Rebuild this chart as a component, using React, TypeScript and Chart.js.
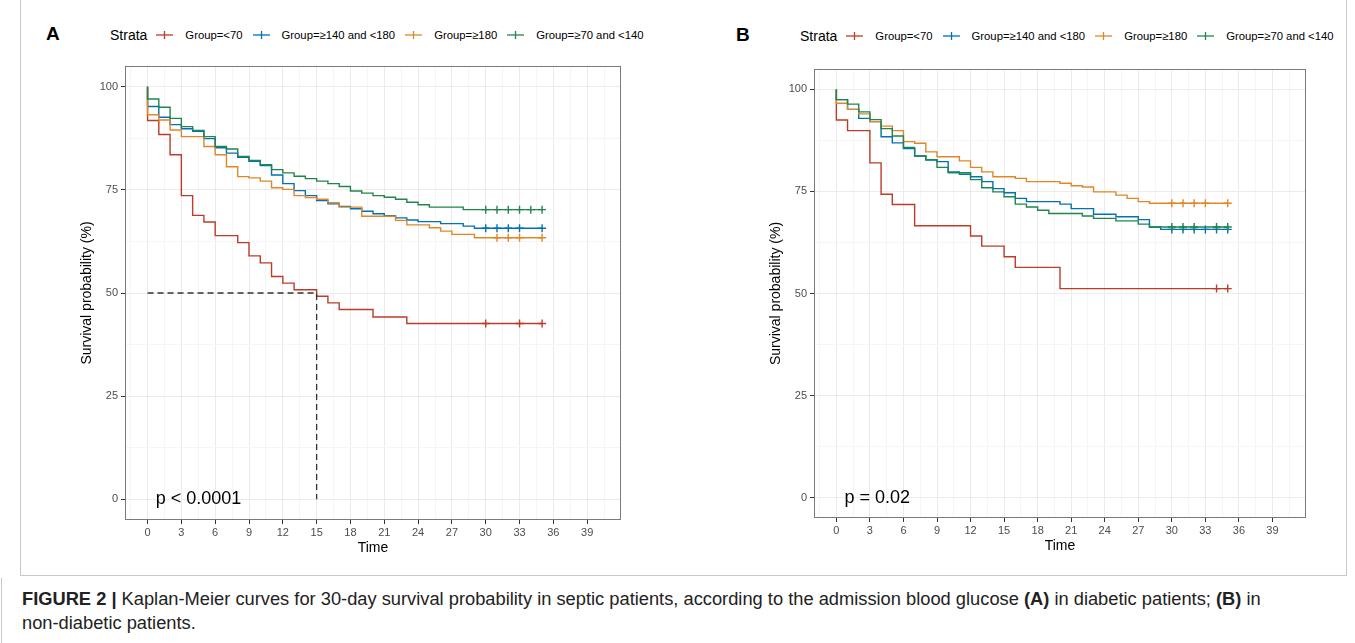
import React, { useEffect, useRef } from 'react';
import { Chart, registerables } from 'chart.js';

Chart.register(...registerables);

// ---------- data ----------
const groupLabels = ['Group=<70', 'Group=≥140 and <180', 'Group=≥180', 'Group=≥70 and <140'];
const groupColors = ['#BC3C29', '#0072B5', '#E18727', '#20854E'];

const xMajorTicks = [0, 3, 6, 9, 12, 15, 18, 21, 24, 27, 30, 33, 36, 39];
const xMinorTicks = [-1.5, 1.5, 4.5, 7.5, 10.5, 13.5, 16.5, 19.5, 22.5, 25.5, 28.5, 31.5, 34.5, 37.5, 40.5];
const yMajorTicks = [0, 25, 50, 75, 100];
const yMinorTicks = [12.5, 37.5, 62.5, 87.5];

// Panel A (diabetic)
const aRedTime = [0, 0, 1, 2, 3, 4, 5, 6, 8, 9, 10, 11, 12, 13, 15, 16, 17, 20, 23, 35];
const aRedSurv = [100, 91.8, 88.4, 83.5, 73.6, 68.8, 67.2, 63.9, 62.2, 59.0, 57.3, 54.0, 52.4, 50.8, 49.2, 47.6, 46.0, 44.2, 42.6, 42.6];
const aRedCensor = [30, 33, 35];

const aBlueTime = [0, 0, 1, 2, 3, 4, 5, 6, 7, 8, 9, 10, 11, 12, 13, 14, 15, 16, 17, 18, 19, 20, 21, 22, 23, 24, 26, 28, 29, 35];
const aBlueSurv = [100, 95.2, 92.6, 90.8, 89.8, 89.2, 87.4, 85.2, 83.9, 82.9, 81.9, 80.9, 78.6, 76.5, 74.8, 73.6, 72.4, 71.6, 71.0, 70.4, 69.8, 69.2, 68.7, 68.2, 67.7, 67.3, 66.8, 66.2, 65.7, 65.7];
const aBlueCensor = [30, 31, 32, 33, 35];

const aOrangeTime = [0, 0, 1, 2, 3, 5, 6, 7, 8, 9, 10, 11, 12, 13, 14, 15, 16, 17, 19, 22, 23, 25, 26, 27, 29, 35];
const aOrangeSurv = [100, 93.2, 91.9, 89.5, 87.9, 85.5, 83.5, 80.6, 78.2, 77.9, 77.1, 75.5, 75.1, 73.6, 73.1, 72.7, 71.9, 70.8, 68.6, 67.6, 66.5, 65.8, 65.0, 64.2, 63.4, 63.4];
const aOrangeCensor = [31, 32, 33, 35];

const aGreenTime = [0, 0, 1, 2, 3, 4, 5, 6, 7, 8, 9, 10, 11, 12, 13, 14, 15, 16, 17, 18, 19, 20, 21, 22, 23, 24, 25, 28, 35];
const aGreenSurv = [100, 97.0, 95.0, 92.3, 90.3, 89.4, 87.9, 85.5, 84.9, 83.1, 82.1, 81.1, 79.9, 79.1, 78.3, 77.7, 77.1, 76.5, 75.8, 74.7, 74.2, 73.6, 73.2, 72.7, 72.0, 71.4, 70.8, 70.2, 70.2];
const aGreenCensor = [30, 31, 32, 33, 34, 35];

const aMedianTime = 15;
const aPValue = 'p < 0.0001';

// Panel B (non-diabetic)
const bRedTime = [0, 0, 1, 3, 4, 5, 7, 12, 13, 15, 16, 20, 35];
const bRedSurv = [100, 92.5, 89.9, 82.0, 74.3, 71.8, 66.6, 64.1, 61.6, 59.0, 56.4, 51.2, 51.2];
const bRedCensor = [34, 35];

const bBlueTime = [0, 0, 1, 2, 3, 4, 5, 6, 7, 8, 9, 10, 11, 12, 13, 14, 15, 16, 17, 20, 21, 23, 25, 27, 28, 29, 35];
const bBlueSurv = [100, 97.5, 95.1, 92.9, 92.1, 88.4, 86.9, 85.5, 83.7, 82.7, 82.3, 79.8, 79.2, 78.6, 77.4, 75.7, 74.7, 73.3, 72.5, 71.9, 70.8, 69.4, 68.8, 68.1, 66.3, 65.7, 65.7];
const bBlueCensor = [30, 31, 32, 33, 34, 35];

const bOrangeTime = [0, 0, 1, 2, 3, 4, 5, 6, 7, 8, 9, 11, 12, 13, 14, 16, 17, 20, 21, 22, 23, 25, 26, 27, 28, 35];
const bOrangeSurv = [100, 96.6, 95.1, 94.0, 92.1, 91.0, 89.9, 87.2, 86.8, 84.7, 83.5, 82.5, 80.9, 79.8, 78.6, 78.2, 77.4, 77.0, 76.4, 76.1, 74.9, 74.1, 73.3, 72.5, 72.1, 72.1];
const bOrangeCensor = [30, 31, 32, 33, 35];

const bGreenTime = [0, 0, 1, 2, 3, 4, 5, 6, 7, 8, 9, 10, 12, 13, 14, 15, 16, 17, 18, 19, 22, 23, 25, 27, 28, 35];
const bGreenSurv = [100, 97.5, 96.4, 94.5, 92.6, 90.4, 88.6, 85.8, 83.7, 82.8, 80.9, 79.6, 77.9, 75.9, 74.9, 73.7, 71.9, 71.2, 70.4, 69.6, 69.0, 68.4, 67.8, 67.0, 66.3, 66.3];
const bGreenCensor = [30, 31, 32, 34, 35];

const bMedianTime: number | null = null;
const bPValue = 'p = 0.02';

// ---------- helpers ----------
const FONT = '"Liberation Sans", Arial, Helvetica, sans-serif';

function survAt(times: number[], surv: number[], t: number) {
  let v = surv[0];
  for (let i = 0; i < times.length; i++) if (times[i] <= t) v = surv[i];
  return v;
}

type Curve = { time: number[]; surv: number[]; censor: number[] };

function buildDatasets(curves: Curve[]) {
  const ds: any[] = [];
  const order = [4, 3, 2, 1];
  curves.forEach((c, i) => {
    ds.push({
      type: 'line',
      label: groupLabels[i],
      data: c.time.map((t, k) => ({ x: t, y: c.surv[k] })),
      borderColor: groupColors[i],
      backgroundColor: groupColors[i],
      borderWidth: 1.4,
      pointRadius: 0,
      stepped: 'before',
      fill: false,
      order: order[i] + 4,
    });
    ds.push({
      type: 'scatter',
      label: groupLabels[i] + ' censored',
      data: c.censor.map((t) => ({ x: t, y: survAt(c.time, c.surv, t) })),
      borderColor: groupColors[i],
      backgroundColor: groupColors[i],
      pointStyle: 'cross',
      pointRadius: 4,
      borderWidth: 1.4,
      showLine: false,
      order: order[i],
    });
  });
  return ds;
}

const decorPlugin = {
  id: 'panelDecor',
  afterDatasetsDraw(chart: any, _args: any, opts: any) {
    const { ctx, chartArea: ca, scales } = chart;
    const x = scales.x;
    const y = scales.y;
    ctx.save();
    if (opts.median != null) {
      ctx.setLineDash([6, 4]);
      ctx.strokeStyle = '#333333';
      ctx.lineWidth = 1.3;
      ctx.beginPath();
      ctx.moveTo(x.getPixelForValue(0), y.getPixelForValue(50));
      ctx.lineTo(x.getPixelForValue(opts.median), y.getPixelForValue(50));
      ctx.lineTo(x.getPixelForValue(opts.median), y.getPixelForValue(0));
      ctx.stroke();
      ctx.setLineDash([]);
    }
    if (opts.pText) {
      ctx.fillStyle = '#000000';
      ctx.font = '18px ' + FONT;
      ctx.textAlign = 'left';
      ctx.textBaseline = 'middle';
      ctx.fillText(opts.pText, x.getPixelForValue(0.73), y.getPixelForValue(0));
    }
    ctx.strokeStyle = '#7a7a7a';
    ctx.lineWidth = 1;
    const l = Math.round(ca.left) + 0.5;
    const t = Math.round(ca.top) + 0.5;
    const r = Math.round(ca.right) - 0.5;
    const b = Math.round(ca.bottom) - 0.5;
    ctx.strokeRect(l, t, r - l, b - t);
    ctx.restore();
  },
};

type PanelProps = {
  left: number;
  top: number;
  width: number;
  height: number;
  curves: Curve[];
  median: number | null;
  pText: string;
};

function Panel(p: PanelProps) {
  const ref = useRef<HTMLCanvasElement | null>(null);
  useEffect(() => {
    if (!ref.current) return;
    const chart = new Chart(ref.current, {
      type: 'line',
      data: { datasets: buildDatasets(p.curves) },
      plugins: [decorPlugin],
      options: {
        animation: false,
        responsive: false,
        maintainAspectRatio: false,
        layout: { padding: { top: 10, right: 14, left: 0, bottom: 0 } },
        plugins: {
          legend: { display: false },
          tooltip: { enabled: false },
          panelDecor: { median: p.median, pText: p.pText },
        } as any,
        scales: {
          x: {
            type: 'linear',
            min: -2,
            max: 42,
            afterBuildTicks: (s: any) => {
              s.ticks = [...xMinorTicks, ...xMajorTicks].sort((a, b) => a - b).map((v) => ({ value: v }));
            },
            afterFit: (s: any) => {
              s.height = 40;
            },
            ticks: {
              autoSkip: false,
              maxRotation: 0,
              padding: 2,
              color: '#4D4D4D',
              font: { family: FONT, size: 11 },
              callback: (v: any) => (xMajorTicks.includes(Number(v)) ? String(v) : ''),
            },
            grid: {
              color: (c: any) => (xMajorTicks.includes(c.tick?.value) ? '#EBEBEB' : '#F5F5F5'),
              lineWidth: 1,
              tickLength: 4,
              tickColor: (c: any) => (xMajorTicks.includes(c.tick?.value) ? '#333333' : 'rgba(0,0,0,0)'),
            },
            border: { display: false },
            title: {
              display: true,
              text: 'Time',
              color: '#000000',
              font: { family: FONT, size: 14 },
              padding: { top: 0, bottom: 3.6 },
            },
          },
          y: {
            type: 'linear',
            min: -5,
            max: 105,
            afterBuildTicks: (s: any) => {
              s.ticks = [...yMinorTicks, ...yMajorTicks].sort((a, b) => a - b).map((v) => ({ value: v }));
            },
            afterFit: (s: any) => {
              s.width = 65;
            },
            ticks: {
              autoSkip: false,
              padding: 3,
              color: '#4D4D4D',
              font: { family: FONT, size: 11 },
              callback: (v: any) => (yMajorTicks.includes(Number(v)) ? String(v) : ''),
            },
            grid: {
              color: (c: any) => (yMajorTicks.includes(c.tick?.value) ? '#EBEBEB' : '#F5F5F5'),
              lineWidth: 1,
              tickLength: 4,
              tickColor: (c: any) => (yMajorTicks.includes(c.tick?.value) ? '#333333' : 'rgba(0,0,0,0)'),
            },
            border: { display: false },
            title: {
              display: true,
              text: 'Survival probability (%)',
              color: '#000000',
              font: { family: FONT, size: 14 },
              padding: { top: 18.6, bottom: 0 },
            },
          },
        },
      } as any,
    });
    return () => chart.destroy();
  }, []);
  return (
    <canvas
      ref={ref}
      width={p.width}
      height={p.height}
      style={{ position: 'absolute', left: p.left, top: p.top, width: p.width, height: p.height }}
    />
  );
}

function LegendKey({ color }: { color: string }) {
  return (
    <svg width={17} height={12} style={{ display: 'block' }}>
      <line x1={0} y1={6} x2={17} y2={6} stroke={color} strokeWidth={1.3} />
      <line x1={8.5} y1={2} x2={8.5} y2={10} stroke={color} strokeWidth={1.3} />
    </svg>
  );
}

function Legend({ left, top, tag, tagLeft }: { left: number; top: number; tag: string; tagLeft: number }) {
  return (
    <>
      <div
        style={{
          position: 'absolute',
          left: tagLeft,
          top: top - 4,
          fontFamily: FONT,
          fontWeight: 'bold',
          fontSize: 19,
          lineHeight: '22px',
          color: '#000',
        }}
      >
        {tag}
      </div>
      <div
        style={{
          position: 'absolute',
          left,
          top,
          height: 16,
          display: 'flex',
          alignItems: 'center',
          fontFamily: FONT,
          whiteSpace: 'nowrap',
        }}
      >
        <span style={{ fontSize: 14, color: '#000', marginRight: 9 }}>Strata</span>
        {groupLabels.map((g, i) => (
          <React.Fragment key={g}>
            <LegendKey color={groupColors[i]} />
            <span style={{ fontSize: 11.3, color: '#000', marginLeft: 12, marginRight: 10 }}>{g}</span>
          </React.Fragment>
        ))}
      </div>
    </>
  );
}

export default function App() {
  const curvesA: Curve[] = [
    { time: aRedTime, surv: aRedSurv, censor: aRedCensor },
    { time: aBlueTime, surv: aBlueSurv, censor: aBlueCensor },
    { time: aOrangeTime, surv: aOrangeSurv, censor: aOrangeCensor },
    { time: aGreenTime, surv: aGreenSurv, censor: aGreenCensor },
  ];
  const curvesB: Curve[] = [
    { time: bRedTime, surv: bRedSurv, censor: bRedCensor },
    { time: bBlueTime, surv: bBlueSurv, censor: bBlueCensor },
    { time: bOrangeTime, surv: bOrangeSurv, censor: bOrangeCensor },
    { time: bGreenTime, surv: bGreenSurv, censor: bGreenCensor },
  ];
  return (
    <div
      style={{
        position: 'absolute',
        left: 0,
        top: 0,
        width: 1355,
        height: 643,
        background: '#ffffff',
        overflow: 'hidden',
      }}
    >
      <div
        style={{
          position: 'absolute',
          left: 20,
          top: -2,
          width: 1325,
          height: 577,
          borderLeft: '1px solid #c8c8c8',
          borderRight: '1px solid #c8c8c8',
          borderBottom: '1px solid #c8c8c8',
        }}
      />
      <div
        style={{
          position: 'absolute',
          left: 1,
          top: 578,
          width: 1,
          height: 70,
          background: '#c8c8c8',
        }}
      />
      <Legend left={110} top={27} tag="A" tagLeft={46} />
      <Legend left={800} top={28} tag="B" tagLeft={736} />
      <Panel left={60} top={56} width={575} height={504} curves={curvesA} median={aMedianTime} pText={aPValue} />
      <Panel left={749} top={59} width={571} height={499} curves={curvesB} median={bMedianTime} pText={bPValue} />
      <div
        style={{
          position: 'absolute',
          left: 22,
          top: 587,
          width: 1320,
          fontFamily: FONT,
          fontSize: 18.3,
          lineHeight: '24px',
          color: '#222',
          whiteSpace: 'nowrap',
        }}
      >
        <b>FIGURE 2 |</b> Kaplan-Meier curves for 30-day survival probability in septic patients, according to the
        admission blood glucose <b>(A)</b> in diabetic patients; <b>(B)</b> in
        <br />
        non-diabetic patients.
      </div>
    </div>
  );
}
